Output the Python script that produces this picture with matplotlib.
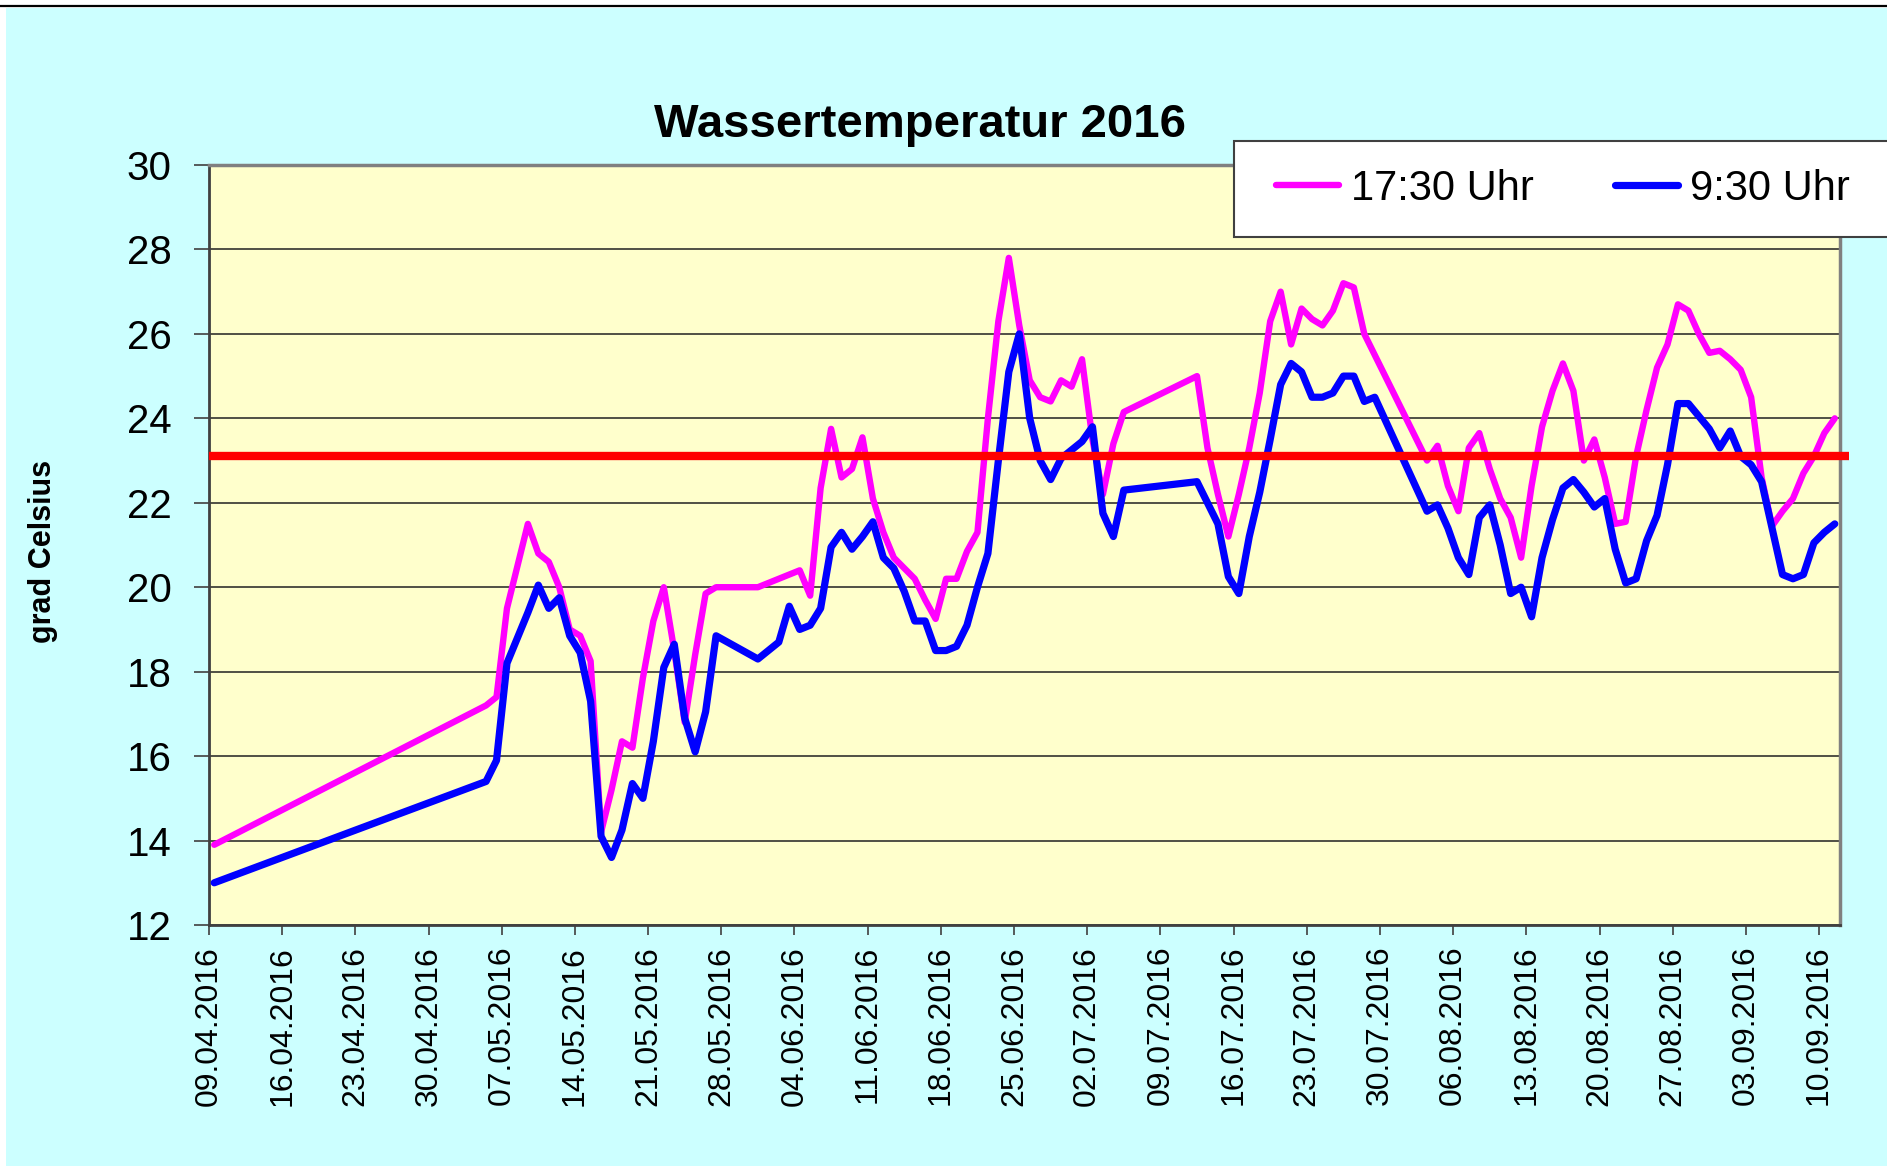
import pandas as pd
import numpy as np
import matplotlib
matplotlib.use('Agg')
import matplotlib.pyplot as plt
import matplotlib.dates as mdates
from matplotlib.patches import Rectangle
from matplotlib.lines import Line2D

plt.rcParams['font.family'] = ['Liberation Sans', 'DejaVu Sans']

# Messtage (dd.mm, Jahr 2016)
tage = ['09.04', '05.05', '06.05', '07.05', '08.05', '09.05', '10.05', '11.05', '12.05', '13.05',
        '14.05', '15.05', '16.05', '17.05', '18.05', '19.05', '20.05', '21.05', '22.05', '23.05',
        '24.05', '25.05', '26.05', '27.05', '31.05', '02.06', '03.06', '04.06', '05.06', '06.06',
        '07.06', '08.06', '09.06', '10.06', '11.06', '12.06', '13.06', '14.06', '15.06', '16.06',
        '17.06', '18.06', '19.06', '20.06', '21.06', '22.06', '23.06', '24.06', '25.06', '26.06',
        '27.06', '28.06', '29.06', '30.06', '01.07', '02.07', '03.07', '04.07', '05.07', '12.07',
        '13.07', '14.07', '15.07', '16.07', '17.07', '18.07', '19.07', '20.07', '21.07', '22.07',
        '23.07', '24.07', '25.07', '26.07', '27.07', '28.07', '29.07', '03.08', '04.08', '05.08',
        '06.08', '07.08', '08.08', '09.08', '10.08', '11.08', '12.08', '13.08', '14.08', '15.08',
        '16.08', '17.08', '18.08', '19.08', '20.08', '21.08', '22.08', '23.08', '24.08', '25.08',
        '26.08', '27.08', '28.08', '29.08', '30.08', '31.08', '01.09', '02.09', '03.09', '04.09',
        '05.09', '06.09', '07.09', '08.09', '09.09', '10.09', '11.09']

abend = [13.9, 17.2, 17.4, 19.5, 20.5, 21.5, 20.8, 20.6, 20.0, 19.0,
         18.85, 18.25, 14.2, 15.2, 16.35, 16.2, 17.85, 19.2, 20.0, 18.5,
         16.8, 18.4, 19.85, 20.0, 20.0, 20.2, 20.3, 20.4, 19.8, 22.35,
         23.75, 22.6, 22.8, 23.55, 22.1, 21.3, 20.7, 20.45, 20.2, 19.7,
         19.25, 20.2, 20.2, 20.85, 21.3, 24.0, 26.3, 27.8, 26.2, 24.9,
         24.5, 24.4, 24.9, 24.75, 25.4, 23.5, 22.2, 23.4, 24.15, 25.0,
         23.3, 22.2, 21.2, 22.2, 23.3, 24.6, 26.3, 27.0, 25.75, 26.6,
         26.35, 26.2, 26.55, 27.2, 27.1, 26.0, 25.5, 23.0, 23.35, 22.4,
         21.8, 23.3, 23.65, 22.8, 22.1, 21.65, 20.7, 22.4, 23.8, 24.65,
         25.3, 24.65, 23.0, 23.5, 22.6, 21.5, 21.55, 23.1, 24.2, 25.2,
         25.75, 26.7, 26.55, 26.0, 25.55, 25.6, 25.4, 25.15, 24.5, 22.6,
         21.45, 21.8, 22.1, 22.7, 23.1, 23.65, 24.0]

morgen = [13.0, 15.4, 15.9, 18.2, 18.8, 19.4, 20.05, 19.5, 19.75, 18.85,
          18.45, 17.3, 14.1, 13.6, 14.25, 15.35, 15.0, 16.35, 18.1, 18.65,
          16.9, 16.1, 17.05, 18.85, 18.3, 18.7, 19.55, 19.0, 19.1, 19.5,
          20.95, 21.3, 20.9, 21.2, 21.55, 20.7, 20.45, 19.9, 19.2, 19.2,
          18.5, 18.5, 18.6, 19.1, 20.0, 20.8, 23.0, 25.1, 26.0, 24.0,
          23.0, 22.55, 23.05, 23.25, 23.45, 23.8, 21.75, 21.2, 22.3, 22.5,
          22.0, 21.5, 20.25, 19.85, 21.2, 22.25, 23.5, 24.8, 25.3, 25.1,
          24.5, 24.5, 24.6, 25.0, 25.0, 24.4, 24.5, 21.8, 21.95, 21.4,
          20.7, 20.3, 21.65, 21.95, 21.0, 19.85, 20.0, 19.3, 20.7, 21.6,
          22.35, 22.55, 22.25, 21.9, 22.1, 20.9, 20.1, 20.2, 21.1, 21.7,
          22.9, 24.35, 24.35, 24.05, 23.75, 23.3, 23.7, 23.1, 22.9, 22.5,
          21.4, 20.3, 20.2, 20.3, 21.05, 21.3, 21.5]

mittel = 23.1

datum = pd.to_datetime([t + '.2016' for t in tage], format='%d.%m.%Y')
x = datum + pd.Timedelta(hours=12)  # Punkte zwischen den Teilstrichen

W, H = 1887, 1166
fig = plt.figure(figsize=(W / 100, H / 100), dpi=100, facecolor='white')

# Hintergrund und Rahmenlinie oben
fig.add_artist(Rectangle((6 / W, 0), 1, 1 - 8 / H, transform=fig.transFigure,
                         facecolor='#CCFFFF', edgecolor='none', zorder=-10))
fig.add_artist(Line2D([0, 1], [1 - 5.5 / H] * 2, transform=fig.transFigure,
                      color='black', lw=1.6))

ax = fig.add_axes([209 / W, 1 - 925 / H, (1840 - 209) / W, (925 - 165) / H])
ax.set_facecolor('#FFFFCC')

ax.plot(x, abend, color='#FF00FF', lw=4.6, solid_joinstyle='round',
        solid_capstyle='round', label='17:30 Uhr', zorder=3)
ax.plot(x, morgen, color='#0000FF', lw=5.2, solid_joinstyle='round',
        solid_capstyle='round', label='9:30 Uhr', zorder=4)

start = pd.Timestamp('2016-04-09')
ende = pd.Timestamp('2016-09-12')
ax.hlines(mittel, start, ende + pd.Timedelta(hours=20), color='#FF0000', lw=6,
          zorder=5, clip_on=False)

ax.set_xlim(start, ende)
ax.set_ylim(12, 30)
ax.set_yticks(np.arange(12, 31, 2))
ax.set_xticks(pd.date_range('2016-04-09', '2016-09-10', freq='7D'))
ax.xaxis.set_major_formatter(mdates.DateFormatter('%d.%m.%Y'))
ax.grid(axis='y', color='#202020', lw=1.1)
ax.set_axisbelow(True)

for lab in ax.get_xticklabels():
    lab.set_rotation(90)
ax.tick_params(axis='x', labelsize=23, length=7, width=1.2, color='#404040', pad=8)
ax.tick_params(axis='y', labelsize=29, length=11, width=1.2, color='#404040', pad=16)

for s in ['left', 'bottom']:
    ax.spines[s].set_color('#404040')
    ax.spines[s].set_linewidth(2)
for s in ['top', 'right']:
    ax.spines[s].set_color('#808080')
    ax.spines[s].set_linewidth(2.5)

fig.text(920 / W, 1 - 125 / H, 'Wassertemperatur 2016', fontsize=34,
         fontweight='bold', ha='center', va='center')
fig.text(43 / W, 1 - 551 / H, 'grad Celsius', fontsize=22, fontweight='bold',
         rotation=90, ha='center', va='center')

# Legendenkasten
fig.add_artist(Rectangle((1234 / W, 1 - 237 / H), 0.5, 96 / H, transform=fig.transFigure,
                         facecolor='white', edgecolor='#404040', lw=1.5, zorder=4))
fig.legend(loc='center left', bbox_to_anchor=(1276 / W, 1 - 189 / H), ncol=2,
           frameon=False, fontsize=30, handlelength=1.5, handletextpad=0.3,
           columnspacing=1.95, borderpad=0, borderaxespad=0)

plt.savefig('out.png', dpi=100, facecolor=fig.get_facecolor())
